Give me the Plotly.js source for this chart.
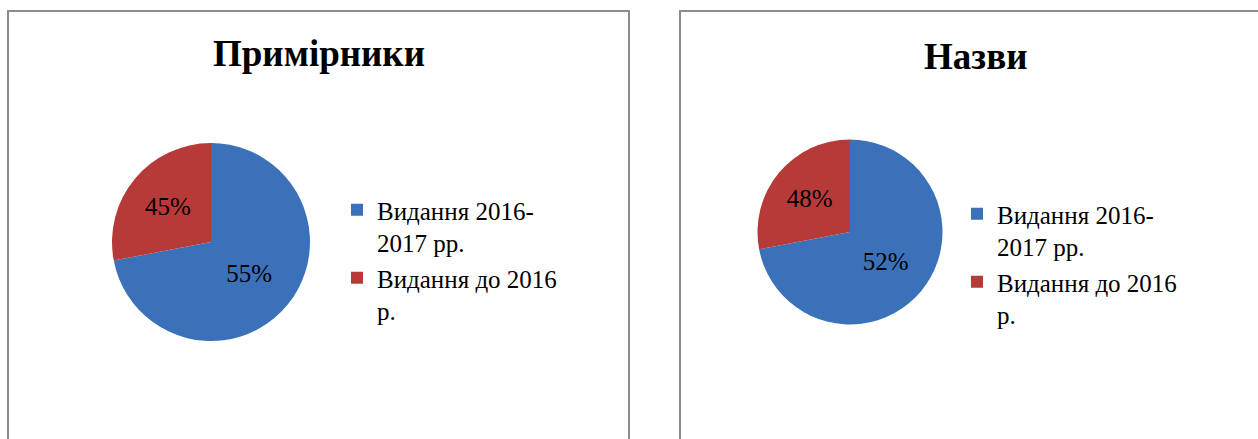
<!DOCTYPE html>
<html>
<head>
<meta charset="utf-8">
<script src="https://cdn.plot.ly/plotly-3.0.1.min.js"></script>
<style>html,body{margin:0;padding:0;background:#fff;}#chart{width:1258px;height:439px;}</style>
</head>
<body>
<div id="chart"></div>
<script>
// Data
const categories = ['Видання 2016-<br>2017 рр.', 'Видання до 2016<br>р.'];
const chartTitles = ['Примірники', 'Назви'];
// slice sizes as drawn (share of the circle)
const copiesValues = [72, 28];
const titlesValues = [72, 28];
// data labels as printed on the chart
const copiesLabels = ['55%', '45%'];
const titlesLabels = ['52%', '48%'];
const sliceColors = ['#3A71B9', '#B63A37'];

const W = 1258, H = 439;
const px = v => v / W;
const py = v => 1 - v / H;

const serif = 'Liberation Serif, Times New Roman, serif';

function pieTrace(labelsList, values, labels, domain, legendId) {
  return {
    type: 'pie',
    labels: labelsList,
    values: values,
    text: labels,
    textinfo: 'text',
    textposition: 'inside',
    insidetextorientation: 'horizontal',
    textfont: {family: serif, size: 25, color: '#000'},
    marker: {colors: sliceColors, line: {width: 0}},
    sort: false,
    direction: 'clockwise',
    rotation: 0,
    domain: domain,
    showlegend: true,
    legend: legendId,
    hoverinfo: 'none'
  };
}

// second chart uses the same categories; an invisible suffix keeps its legend entries separate
const categories2 = categories.map(c => c + '\u200b');

const data = [
  pieTrace(categories, copiesValues, copiesLabels, {x: [px(112), px(310)], y: [py(341), py(143)]}, 'legend'),
  pieTrace(categories2, titlesValues, titlesLabels, {x: [px(757.5), px(942.5)], y: [py(324.5), py(139.5)]}, 'legend2')
];

function legendStyle(x, y) {
  return {
    font: {family: serif, size: 25, color: '#000'},
    bgcolor: 'rgba(0,0,0,0)',
    valign: 'top',
    tracegroupgap: 0,
    xanchor: 'left',
    yanchor: 'top',
    x: x, y: y
  };
}

const layout = {
  width: W, height: H,
  margin: {l: 0, r: 0, t: 0, b: 0},
  paper_bgcolor: '#fff',
  showlegend: true,
  legend: legendStyle(px(337), py(187)),
  legend2: legendStyle(px(957), py(191)),
  annotations: [
    {text: '<b>' + chartTitles[0] + '</b>', x: px(318.5), y: py(54), xref: 'paper', yref: 'paper',
     showarrow: false, xanchor: 'center', yanchor: 'middle', font: {family: serif, size: 37, color: '#000'}},
    {text: '<b>' + chartTitles[1] + '</b>', x: px(975.5), y: py(57), xref: 'paper', yref: 'paper',
     showarrow: false, xanchor: 'center', yanchor: 'middle', font: {family: serif, size: 37, color: '#000'}}
  ],
  shapes: [
    {type: 'rect', xref: 'paper', yref: 'paper', x0: px(8), x1: px(629), y0: -0.2, y1: py(11),
     line: {color: '#8c8c8c', width: 2}, fillcolor: 'rgba(0,0,0,0)'},
    {type: 'rect', xref: 'paper', yref: 'paper', x0: px(680), x1: 1.2, y0: -0.2, y1: py(11),
     line: {color: '#8c8c8c', width: 2}, fillcolor: 'rgba(0,0,0,0)'}
  ]
};

Plotly.newPlot('chart', data, layout, {displayModeBar: false, staticPlot: true});
</script>
</body>
</html>
